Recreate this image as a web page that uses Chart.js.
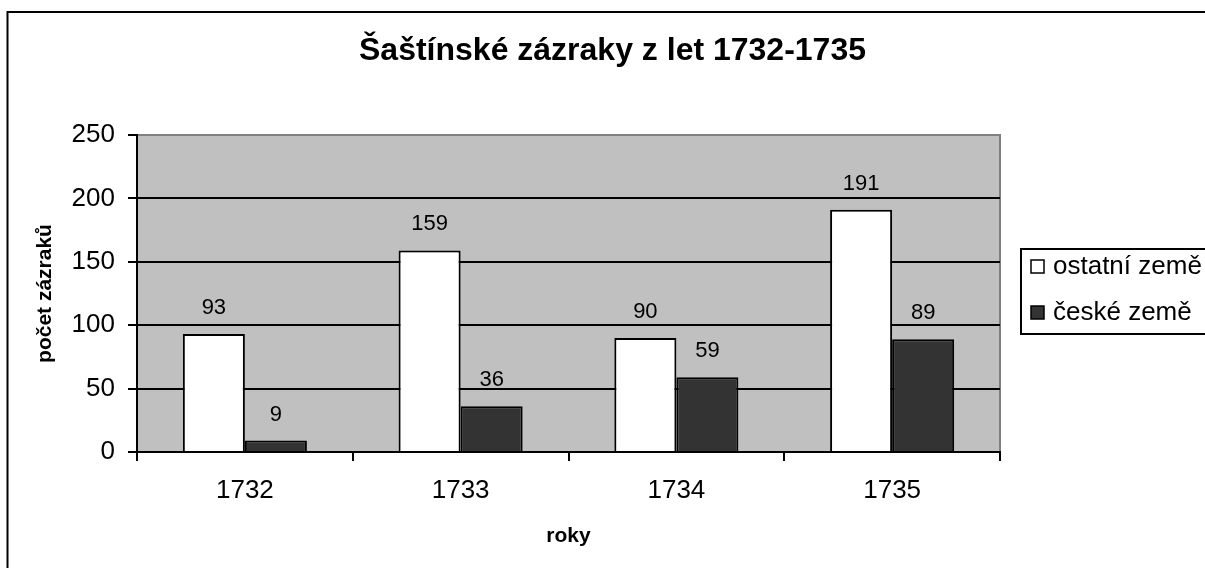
<!DOCTYPE html>
<html>
<head>
<meta charset="utf-8">
<script src="https://cdn.jsdelivr.net/npm/chart.js@4/dist/chart.umd.min.js"></script>
<style>
  html, body { margin: 0; padding: 0; background: #fff; overflow: hidden; }
  canvas { display: block; }
</style>
</head>
<body>
<canvas id="chartBar" width="1205" height="568"></canvas>
<script>
const years = ["1732", "1733", "1734", "1735"];
const ostatni = [93, 159, 90, 191];
const ceske = [9, 36, 59, 89];
const seriesNames = ["ostatní země", "české země"];

const FONT = "'Liberation Sans', Arial, sans-serif";

// grey plot area + frame of the whole chart
const background = {
  id: "background",
  beforeDraw(chart) {
    const { ctx, chartArea: a } = chart;
    ctx.save();
    ctx.fillStyle = "#c0c0c0";
    ctx.fillRect(a.left, a.top, a.right - a.left, a.bottom - a.top);
    ctx.strokeStyle = "#808080";
    ctx.lineWidth = 2;
    ctx.strokeRect(a.left, a.top, a.right - a.left, a.bottom - a.top);
    ctx.strokeStyle = "#000";
    ctx.beginPath();
    ctx.moveTo(7.5, chart.height);
    ctx.lineTo(7.5, 12);
    ctx.lineTo(chart.width, 12);
    ctx.stroke();
    ctx.restore();
  },
};

// numbers above the bars
const valueLabels = {
  id: "valueLabels",
  afterDatasetsDraw(chart) {
    const { ctx } = chart;
    ctx.save();
    ctx.font = "22px " + FONT;
    ctx.fillStyle = "#000";
    ctx.textAlign = "center";
    ctx.textBaseline = "middle";
    chart.data.datasets.forEach((ds, i) => {
      chart.getDatasetMeta(i).data.forEach((bar, j) => {
        ctx.fillText(ds.data[j], bar.x, bar.y - 26);
      });
    });
    ctx.restore();
  },
};

// boxed legend on the right, cut by the edge like the original
const boxLegend = {
  id: "boxLegend",
  afterDraw(chart) {
    const { ctx } = chart;
    ctx.save();
    ctx.strokeStyle = "#000";
    ctx.lineWidth = 2;
    ctx.strokeRect(1021, 249, 240, 85);
    ctx.font = "26px " + FONT;
    ctx.textBaseline = "middle";
    chart.data.datasets.forEach((ds, i) => {
      const cy = 266.5 + i * 46;
      ctx.fillStyle = ds.backgroundColor;
      ctx.fillRect(1031, cy - 6.5, 13, 13);
      ctx.lineWidth = 1.5;
      ctx.strokeRect(1031, cy - 6.5, 13, 13);
      ctx.fillStyle = "#000";
      ctx.fillText(ds.label, 1053, cy);
    });
    ctx.restore();
  },
};

new Chart(document.getElementById("chartBar"), {
  type: "bar",
  data: {
    labels: years,
    datasets: [
      {
        label: seriesNames[0],
        data: ostatni,
        backgroundColor: "#ffffff",
        borderColor: "#000000",
        borderWidth: 2,
      },
      {
        label: seriesNames[1],
        data: ceske,
        backgroundColor: "#333333",
        borderColor: "#000000",
        borderWidth: 2,
      },
    ],
  },
  options: {
    responsive: false,
    animation: false,
    devicePixelRatio: 1,
    datasets: {
      bar: { categoryPercentage: 0.575, barPercentage: 1 },
    },
    layout: { padding: { left: 20, right: 0, top: 0, bottom: 0 } },
    plugins: {
      title: {
        display: true,
        text: "Šaštínské zázraky z let 1732-1735",
        color: "#000",
        font: { family: FONT, size: 32, weight: "bold" },
        padding: { top: 32, bottom: 64.6 },
      },
      legend: { display: false },
      tooltip: { enabled: false },
    },
    scales: {
      x: {
        grid: {
          offset: true,
          drawOnChartArea: false,
          drawTicks: true,
          tickLength: 9,
          tickColor: "#000",
          lineWidth: 2,
        },
        border: { display: true, color: "#000", width: 2 },
        ticks: {
          color: "#000",
          padding: 14,
          font: { family: FONT, size: 26 },
        },
        title: {
          display: true,
          text: "roky",
          color: "#000",
          font: { family: FONT, size: 21, weight: "bold" },
          padding: { top: 0, bottom: 19 },
        },
        afterFit(scale) {
          scale.height = 116;
        },
      },
      y: {
        min: 0,
        max: 250,
        ticks: {
          stepSize: 50,
          color: "#000",
          padding: 13,
          font: { family: FONT, size: 26 },
        },
        grid: {
          color: (c) => (c.tick && c.tick.value === 250 ? "#808080" : "#000"),
          lineWidth: 2,
          tickLength: 9,
          tickColor: "#000",
        },
        border: { display: true, color: "#000", width: 2 },
        title: {
          display: true,
          text: "počet zázraků",
          color: "#000",
          font: { family: FONT, size: 21, weight: "bold" },
          padding: { top: 13, bottom: 0 },
        },
        afterFit(scale) {
          scale.width = 117;
        },
      },
      legendSpace: {
        type: "linear",
        position: "right",
        grid: { display: false },
        border: { display: false },
        ticks: { display: false },
        afterFit(scale) {
          scale.width = 205;
        },
      },
    },
  },
  plugins: [background, valueLabels, boxLegend],
});
</script>
</body>
</html>
